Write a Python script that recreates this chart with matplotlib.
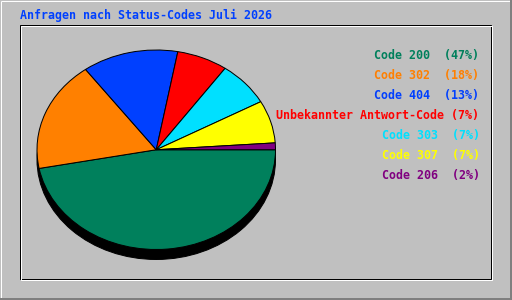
import matplotlib
matplotlib.use("Agg")
import matplotlib.pyplot as plt
from matplotlib.patches import Rectangle, Ellipse

title = "Anfragen nach Status-Codes Juli 2026"
labels = ["Code 200", "Code 302", "Code 404", "Unbekannter Antwort-Code",
          "Code 303", "Code 307", "Code 206"]
pct_labels = [47, 18, 13, 7, 7, 7, 2]
shares = [47.0, 17.9, 13.0, 6.9, 7.2, 6.9, 1.1]
colors = ["#00805c", "#ff8000", "#0040ff", "#ff0000", "#00e0ff", "#ffff00", "#800080"]
gaps = ["  ", "  ", "  ", " ", "  ", "  ", "  "]

W, H = 512, 300
fig = plt.figure(figsize=(W / 100, H / 100), dpi=100)
fig.patch.set_facecolor("#c0c0c0")

bg = fig.add_axes([0, 0, 1, 1])
bg.set_xlim(0, W)
bg.set_ylim(H, 0)
bg.axis("off")

px = 0.72  # 1 pixel in points
# outer bevel
bg.plot([0.5, W - 0.5], [0.5, 0.5], color="white", lw=px, solid_capstyle="butt")
bg.plot([0.5, 0.5], [0.5, H - 0.5], color="white", lw=px, solid_capstyle="butt")
bg.plot([W - 1, W - 1], [0, H], color="#808080", lw=2 * px, solid_capstyle="butt")
bg.plot([0, W], [H - 1, H - 1], color="#808080", lw=2 * px, solid_capstyle="butt")
# inner inset frame
bg.add_patch(Rectangle((19.5, 24.5), 471, 254, fill=False, edgecolor="black", lw=px))
bg.add_patch(Rectangle((20.5, 25.5), 471, 254, fill=False, edgecolor="white", lw=px))

font = dict(family="DejaVu Sans Mono", weight="bold", size=8.4)
bg.text(20, 19.5, title, color="#0040ff", ha="left", va="baseline", **font)
for i, (lab, p, c, g) in enumerate(zip(labels, pct_labels, colors, gaps)):
    bg.text(479.5, 58.5 + 20 * i, f"{lab}{g}({p}%)", color=c, ha="right",
            va="baseline", **font)

# pie as ellipse
pie_ax = fig.add_axes([37 / W, 1 - 249.5 / H, 238.5 / W, 199.5 / H])
pie_ax.set_zorder(2)
pie_ax.patch.set_alpha(0)
shadow = Ellipse((0, -0.1), 2, 2, facecolor="black", edgecolor="black", lw=px,
                 clip_on=False, zorder=0)
pie_ax.add_patch(shadow)
wedges, _ = pie_ax.pie(shares, colors=colors, startangle=0, counterclock=False,
                       radius=1, wedgeprops=dict(edgecolor="black", linewidth=px))
for w in wedges:
    w.set_clip_on(False)
    w.set_zorder(1)
pie_ax.set_aspect("auto")
pie_ax.set_xlim(-1, 1)
pie_ax.set_ylim(-1, 1)
pie_ax.axis("off")

fig.savefig("out.png", dpi=100, facecolor=fig.get_facecolor())
